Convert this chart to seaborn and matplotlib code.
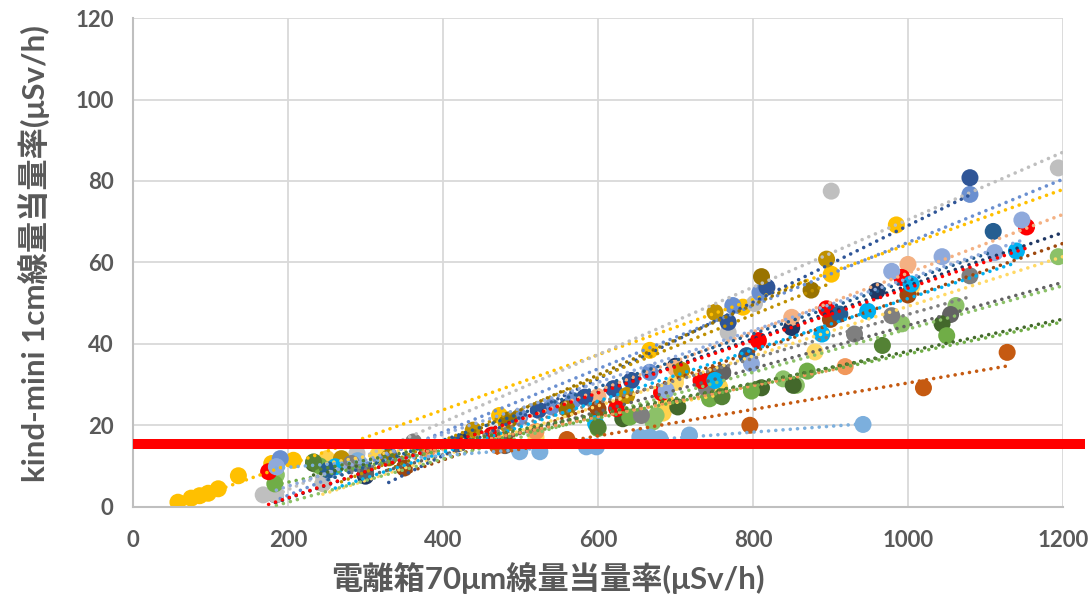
import matplotlib
matplotlib.use("Agg")
import matplotlib.pyplot as plt
import numpy as np
import pandas as pd
import seaborn as sns

sns.set_theme(style="whitegrid")
plt.rcParams["font.family"] = ["Lato", "Noto Sans CJK JP", "DejaVu Sans"]

# readings per measurement series (x: ion chamber, y: kind-mini)
navy_x = [184, 300, 430, 560, 700, 850, 960]
navy_y = [2.9, 7.5, 16.5, 24.5, 34.5, 44.0, 53.0]

palegold_x = [245, 520, 700, 880, 1005]
palegold_y = [5.7, 17.0, 30.5, 38.0, 54.0]

peach_x = [330, 470, 600, 700, 850, 1000]
peach_y = [12.8, 16.5, 27.0, 34.0, 46.5, 59.5]

brown_x = [350, 480, 600, 750, 900, 1000]
brown_y = [9.5, 16.5, 24.0, 32.5, 46.0, 52.0]

gold_x = [58, 75, 86, 97, 110, 136, 179, 207, 473, 667, 787, 901, 985]
gold_y = [1.1, 2.1, 2.7, 3.3, 4.4, 7.6, 10.6, 11.4, 22.4, 38.4, 49.0, 57.1, 69.2]

silver_x = [168, 184, 245, 289, 768, 802, 901, 1194]
silver_y = [2.9, 2.9, 5.7, 13.1, 42.8, 49.9, 77.5, 83.2]

blue_x = [190, 499, 540, 568, 667, 774, 809, 1080]
blue_y = [11.8, 22.0, 24.5, 26.1, 33.0, 49.4, 52.6, 76.7]

darkblue_x = [330, 420, 523, 583, 620, 643, 768, 818, 1080]
darkblue_y = [12.5, 15.5, 23.7, 26.9, 29.0, 31.0, 45.3, 53.9, 80.8]

lightgold_x = [250, 316, 470, 684, 688, 757]
lightgold_y = [11.8, 12.7, 16.5, 23.0, 25.7, 29.4]

darkgold_x = [269, 439, 482, 637, 708, 751, 895]
darkgold_y = [11.8, 18.8, 20.4, 27.3, 33.5, 47.7, 60.8]

olive_x = [330, 485, 560, 811, 875]
olive_y = [12.0, 21.3, 24.0, 56.5, 53.2]

lightgreen_x = [185, 671, 675, 839, 856, 992, 1062, 1194]
lightgreen_y = [7.8, 20.8, 22.4, 31.4, 29.8, 44.9, 49.4, 61.4]

darkgray_x = [300, 480, 761, 1055]
darkgray_y = [8.5, 15.0, 33.0, 47.2]

darkgreen_x = [233, 632, 703, 811, 852, 1044]
darkgreen_y = [10.6, 21.6, 24.5, 29.2, 29.8, 44.9]

green_x = [183, 241, 600, 641, 744, 798, 870, 1050]
green_y = [5.6, 10.0, 19.2, 22.0, 26.5, 28.4, 33.3, 42.0]

rust_x = [470, 560, 796, 1020, 1128]
rust_y = [15.0, 16.5, 20.0, 29.2, 37.9]

paleblue_x = [185, 290, 499, 525, 585, 598, 654, 667, 680, 718, 942]
paleblue_y = [9.8, 11.3, 13.5, 13.5, 14.7, 14.7, 17.1, 17.1, 16.7, 17.6, 20.2]

gray_x = [282, 362, 656, 740, 931, 979, 1080]
gray_y = [10.6, 15.9, 22.4, 29.0, 42.4, 46.9, 56.7]

red_x = [175, 463, 624, 682, 733, 807, 895, 992, 1153]
red_y = [8.6, 17.6, 24.1, 28.0, 31.0, 40.8, 48.6, 56.3, 68.7]

cyan_x = [261, 597, 751, 889, 948, 1004, 1140]
cyan_y = [9.8, 20.4, 31.0, 42.4, 48.0, 54.7, 62.8]

steel_x = [252, 792, 912, 1110]
steel_y = [9.0, 37.1, 47.3, 67.6]

lightblue_x = [185, 688, 798, 979, 1044, 1112, 1147]
lightblue_y = [9.8, 28.6, 35.1, 57.8, 61.4, 62.4, 70.4]

orange_x = [380, 520, 919]
orange_y = [14.0, 18.5, 34.4]

moss_x = [233, 600, 760, 967]
moss_y = [11.0, 19.5, 27.0, 39.6]

# trendline forecast end for each series
trend_end = {
    "gold": 1200, "silver": 1200, "blue": 1200, "darkblue": 1080,
    "navy": 1200, "peach": 1200, "palegold": 1200, "lightgold": 757,
    "brown": 1200, "darkgold": 895, "olive": 875, "lightgreen": 1200,
    "darkgray": 1200, "darkgreen": 1200, "green": 1200, "rust": 1128,
    "paleblue": 942, "gray": 1080, "red": 1153, "cyan": 1140,
    "steel": 1110, "lightblue": 1147, "orange": 919, "moss": 967,
}

THRESHOLD = 15.5

COLORS = {
    "gold": "#FFC000", "silver": "#BFBFBF", "blue": "#6A8FD0", "darkblue": "#2F5597",
    "navy": "#203864", "peach": "#F4B183", "palegold": "#FFD966", "lightgold": "#FFD24D",
    "brown": "#9E480E", "darkgold": "#BF9000", "olive": "#997300", "lightgreen": "#8CC168",
    "darkgray": "#636363", "darkgreen": "#43682B", "green": "#70AD47", "rust": "#C55A11",
    "paleblue": "#7CAFDD", "gray": "#7F7F7F", "red": "#FF0000", "cyan": "#00B0F0",
    "steel": "#255E91", "lightblue": "#8FAADC", "orange": "#F1975A", "moss": "#548235",
}

series = [
    ("navy", navy_x, navy_y), ("palegold", palegold_x, palegold_y),
    ("peach", peach_x, peach_y), ("brown", brown_x, brown_y),
    ("gold", gold_x, gold_y), ("silver", silver_x, silver_y), ("blue", blue_x, blue_y),
    ("darkblue", darkblue_x, darkblue_y), ("lightgold", lightgold_x, lightgold_y),
    ("darkgold", darkgold_x, darkgold_y), ("olive", olive_x, olive_y),
    ("lightgreen", lightgreen_x, lightgreen_y), ("darkgray", darkgray_x, darkgray_y),
    ("darkgreen", darkgreen_x, darkgreen_y), ("green", green_x, green_y), ("rust", rust_x, rust_y),
    ("paleblue", paleblue_x, paleblue_y), ("gray", gray_x, gray_y), ("red", red_x, red_y),
    ("cyan", cyan_x, cyan_y), ("steel", steel_x, steel_y), ("lightblue", lightblue_x, lightblue_y),
    ("orange", orange_x, orange_y), ("moss", moss_x, moss_y),
]

rows = []
for name, xs, ys in series:
    for x, y in zip(xs, ys):
        rows.append({"series": name, "x": x, "y": y})
df = pd.DataFrame(rows)

fig, ax = plt.subplots(figsize=(10.92, 6.02), dpi=100)
fig.subplots_adjust(left=0.1218, right=0.9734, bottom=0.1583, top=0.970)

sns.scatterplot(
    data=df, x="x", y="y", hue="series", palette=COLORS,
    s=150, linewidth=0, alpha=1, legend=False, ax=ax, zorder=2,
)

# linear trendlines (dotted), as in the spreadsheet chart
for name, xs, ys in series:
    slope, intercept = np.polyfit(xs, ys, 1)
    x_line = np.array([min(xs), trend_end[name]])
    ax.plot(
        x_line, intercept + slope * x_line,
        linestyle=(0, (0.01, 2.0)), dash_capstyle="round",
        linewidth=2.6, color=COLORS[name], zorder=3,
    )

ax.axhline(THRESHOLD, xmin=0, xmax=1.024, color="#FF0000", linewidth=7.2,
           solid_capstyle="butt", clip_on=False, zorder=5)

ax.set_xlim(0, 1200)
ax.set_ylim(0, 120)
ax.set_xticks(range(0, 1201, 200))
ax.set_yticks(range(0, 121, 20))

ax.grid(True, color="#D9D9D9", linewidth=1.3)
for side in ["top", "right"]:
    ax.spines[side].set_visible(False)
for side in ["left", "bottom"]:
    ax.spines[side].set_color("#BFBFBF")
    ax.spines[side].set_linewidth(1.5)

ax.tick_params(axis="both", length=0, labelsize=16, labelcolor="#595959")
ax.tick_params(axis="y", pad=14)
ax.tick_params(axis="x", pad=17)
for label in ax.get_xticklabels() + ax.get_yticklabels():
    label.set_fontweight("bold")

ax.set_xlabel("電離箱70μm線量当量率(μSv/h)", fontsize=22.5, fontweight="bold",
              color="#595959", va="center", ha="center")
ax.xaxis.set_label_coords(0.446, -0.146)
ax.set_ylabel("kind-mini 1cm線量当量率(μSv/h)", fontsize=22.5, fontweight="bold",
              color="#595959", va="center", ha="center")
ax.yaxis.set_label_coords(-0.106, 0.519)

fig.savefig("out.png", dpi=100)
